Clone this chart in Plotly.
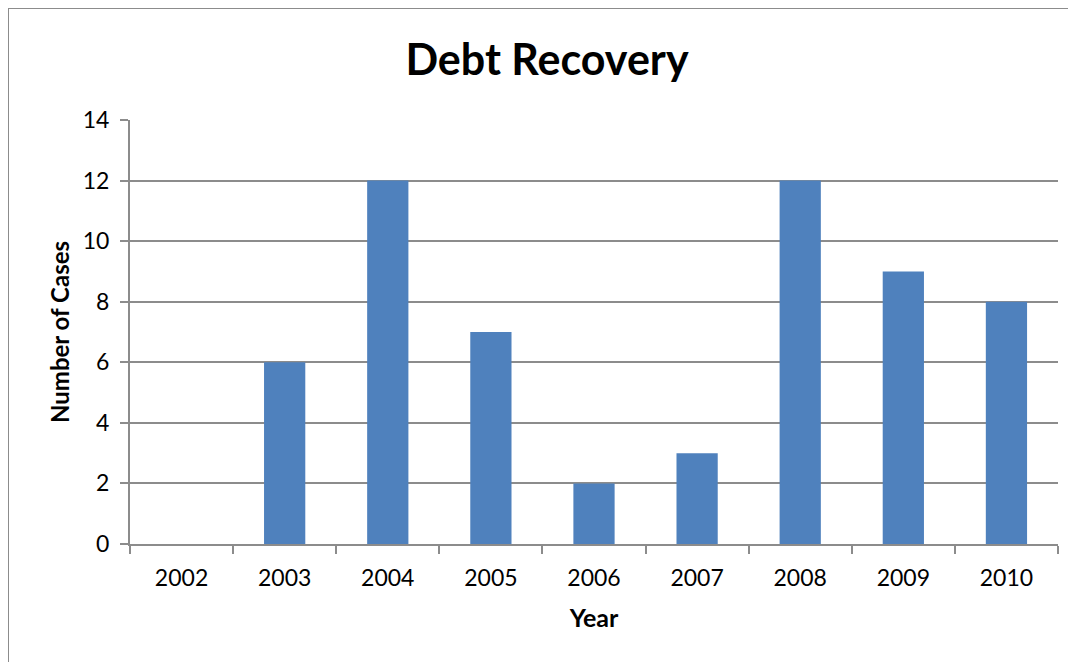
import plotly.graph_objects as go

years = ["2002", "2003", "2004", "2005", "2006", "2007", "2008", "2009", "2010"]
cases = [0, 6, 12, 7, 2, 3, 12, 9, 8]
y_ticks = [0, 2, 4, 6, 8, 10, 12, 14]

FONT = "Lato, 'Open Sans', sans-serif"
GRID = "#8c8c8c"

# page body is offset by 8px; plot area target in screen px: x 130..1058, y 120..544
W, H = 1068, 654
L, T = 122, 112
R, B = W - 1050, H - 536
PW, PH = W - L - R, H - T - B

fig = go.Figure(go.Bar(x=years, y=cases, marker=dict(color="#4F81BD", line=dict(width=0))))

fig.update_layout(
    width=W, height=H,
    margin=dict(l=L, r=R, t=T, b=B),
    paper_bgcolor="white", plot_bgcolor="white",
    bargap=0.6,
    showlegend=False,
    font=dict(family=FONT, color="black"),
    title=dict(text="<b>Debt Recovery</b>", x=(547 - 8) / W, xanchor="center",
               y=1 - (60 - 8) / H, yanchor="middle", font=dict(size=43, family=FONT)),
    xaxis=dict(
        type="category", tickson="boundaries", ticks="outside", ticklen=8,
        tickcolor=GRID, tickwidth=2, showline=True, linecolor=GRID, linewidth=2,
        showgrid=False, tickfont=dict(size=23), ticklabelstandoff=12,
        title=dict(text="<b>Year</b>", font=dict(size=25), standoff=20),
    ),
    yaxis=dict(
        range=[0, 14], tickvals=y_ticks, ticks="outside", ticklen=8,
        tickcolor=GRID, tickwidth=2, showline=True, linecolor=GRID, linewidth=2,
        showgrid=True, gridcolor=GRID, gridwidth=1.5, zeroline=False,
        tickfont=dict(size=23), ticklabelstandoff=6,
        title=dict(text="<b>Number of Cases</b>", font=dict(size=24), standoff=6),
    ),
    shapes=[
        dict(type="line", xref="paper", yref="paper",
             x0=(0 - L) / PW, x1=(W - L) / PW, y0=1 + T / PH, y1=1 + T / PH,
             line=dict(color="#8c8c8c", width=2), layer="below"),
        dict(type="line", xref="paper", yref="paper",
             x0=(0 - L) / PW, x1=(0 - L) / PW, y0=-B / PH, y1=1 + T / PH,
             line=dict(color="#8c8c8c", width=2), layer="below"),
    ],
)

fig.write_html("out.html")
